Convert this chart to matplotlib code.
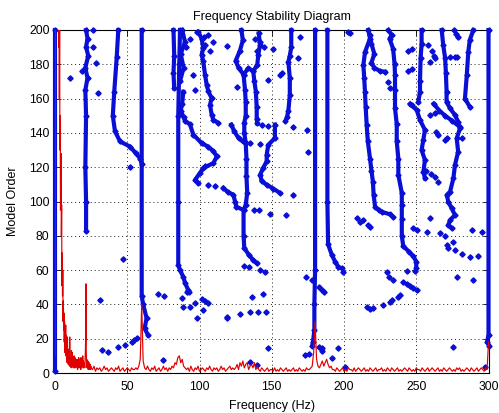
#!/usr/bin/env python3
# -*- coding=utf-8 -*-

import numpy as np
import matplotlib
matplotlib.use("Agg")
import matplotlib.pyplot as plt

# ---- stable pole tracks: (frequency Hz, model order) vertices ----
trk_0 = [(0, 1), (0, 200)]
trk_21 = [(21.5, 83), (21.5, 100), (21, 120), (21.5, 150), (21, 165), (22.5, 172),
          (21, 178), (23, 185), (21.5, 190), (22.5, 195), (21.5, 200)]
trk_43 = [(43.8, 200), (42.7, 184), (41, 164), (40, 150), (41.5, 141), (45, 135),
          (52, 132), (56, 128), (59, 125), (60, 122)]
trk_60 = [(60, 200), (60, 45), (61, 40), (63.4, 32), (62, 26), (64.4, 22)]
trk_82 = [(82, 200), (82.5, 185), (82, 175), (82.5, 166)]
trk_86 = [(86.5, 200), (86, 180), (85.3, 150), (85.3, 100), (85.3, 63), (86.5, 60),
          (88.8, 56), (90, 52.5), (92.2, 48.4), (93, 47)]
trk_88 = [(88, 200), (90, 193), (87, 186), (89, 178), (86.5, 170)]
trk_89 = [(88.8, 164), (88, 157), (87, 153), (89, 149), (90, 147), (93.4, 145),
          (95.7, 139), (101.5, 134), (106, 132), (109.6, 129.3), (112, 126.3),
          (109.6, 122.4), (102.6, 119.5), (100.3, 116.6), (97, 112.7), (99, 110.8)]
trk_102 = [(99, 199), (101.5, 195), (102.6, 189.5), (101.5, 185.6), (102.6, 181.7),
           (103.8, 174), (105, 168), (106.1, 164.2), (108.4, 160.3), (107.3, 156.4),
           (108.4, 150.6), (109.6, 147.7), (113, 145.8)]
trk_124 = [(116.5, 108), (119.5, 105.5), (123.4, 104), (124.6, 100), (125.5, 97), (130.5, 95)]
trk_130 = [(129, 200), (130, 194), (128, 188), (125, 182), (127, 178), (130.5, 174),
           (131.5, 165), (132, 158), (132, 150), (131, 146), (131, 140), (132, 134),
           (132.5, 125), (132.5, 115), (133, 105), (132, 98), (130.5, 95), (130.5, 80),
           (131, 73), (134, 69), (137, 66), (139.6, 64)]
trk_126 = [(122, 144.8), (124, 141), (127, 137), (130, 135), (132, 134)]
trk_141 = [(130.5, 174), (133.8, 177.8), (137.2, 175.9), (140, 179.8), (140.7, 185.6),
           (141.9, 191.5), (141, 198)]
trk_139 = [(137.2, 175.9), (138, 170), (139, 164), (139.6, 155), (139.6, 148), (140, 145.5)]
trk_150 = [(152.2, 144.8), (152.2, 137), (147.6, 133), (146.5, 127.3), (146.5, 123.4),
           (144, 119.5), (142, 115.6), (143, 111.8), (146.5, 109.8), (151, 107.5), (155.7, 105)]
trk_163 = [(163.5, 200), (163.5, 190), (162.5, 185), (161.5, 181.5), (162.5, 172),
           (162.5, 162), (161.5, 153), (160.5, 149), (159.5, 147)]
trk_180 = [(180, 200), (180, 60), (179.5, 40), (179.5, 25), (178.5, 18), (178, 16)]
trk_189 = [(188.5, 200), (188.5, 100), (189, 75), (191.5, 69), (193.8, 65), (196, 62), (198.4, 61)]
trk_216 = [(216.8, 200), (218, 195), (214.5, 187), (213.4, 179.6), (214, 172), (214.5, 164),
           (215, 155), (215.7, 144.6), (216.5, 135), (218, 125), (219, 118), (220, 111.5),
           (220.5, 104), (221.5, 97), (224, 95), (226, 94), (232, 92.5), (234, 91)]
trk_220 = [(218, 197), (219, 192), (221, 186), (219, 181), (221, 178), (225, 176), (228.4, 175.7)]
trk_236 = [(230.7, 200), (233, 197), (231.5, 195), (234, 189), (235, 180), (235.3, 173.8),
           (235.3, 165), (235.3, 154.5), (236.5, 145), (236.5, 135), (237.6, 125),
           (237.6, 115.5), (240, 105), (240, 98), (240, 90), (240, 80), (241, 74),
           (245, 70.7), (248, 68), (250, 65), (250, 61)]
trk_253 = [(253.7, 200), (253.7, 192), (253, 183.5), (252.6, 170), (252.6, 164), (251.4, 158)]
trk_250 = [(245.7, 157), (246.8, 156), (250.3, 153.4), (252.6, 147.5), (256, 141.7),
           (254.9, 135.9), (253.7, 130), (256, 124.2), (255, 117.4), (256, 113.5)]
trk_262 = [(262, 157), (266, 153), (270, 150), (275, 147), (280, 143.6)]
trk_270 = [(267.6, 200), (268.7, 191), (270, 183.5), (270.5, 175), (271, 164), (271, 158),
           (273.4, 154.3), (276.8, 150.4), (279, 146.5), (280.3, 142.7), (278, 136.8),
           (279, 129), (276.8, 121.3), (275.7, 113.5), (273.4, 105.7), (271.1, 103.8),
           (272.2, 99.9), (274.5, 96), (276.8, 92.1), (273.4, 89.2), (272.2, 86.3), (274.5, 84.4)]
trk_286 = [(289.5, 200), (287, 194), (286, 187), (285, 174), (283.7, 160), (287, 155.3)]
trk_300 = [(300, 200), (300, 22), (299, 18), (300.5, 16)]

tracks = [trk_0, trk_21, trk_43, trk_60, trk_82, trk_86, trk_88, trk_89, trk_102,
          trk_124, trk_130, trk_126, trk_141, trk_139, trk_150, trk_163, trk_180,
          trk_189, trk_216, trk_220, trk_236, trk_253, trk_250, trk_262, trk_270,
          trk_286, trk_300]

# ---- single poles that do not form a track ----
lone_poles = [
    (26, 200), (26, 190), (28.4, 181), (18.9, 176), (10.4, 172), (30, 163),
    (52, 120.3), (47.3, 66.3), (31, 42.6),
    (32.3, 13.4), (37, 12.1), (43.8, 15.3), (48.4, 16.3), (53, 18.3), (55, 19.5), (57, 20.2),
    (71.5, 46), (75.4, 45), (75, 7.6),
    (87.7, 44), (91.1, 47), (96.9, 40.6), (93.4, 38.7), (88.8, 38.7), (98, 31.9),
    (101.5, 43), (103.8, 42), (106, 41), (102.2, 37),
    (119, 32.8), (119, 32), (128, 34.4), (135, 35.7), (140.6, 35.7), (146, 35.4),
    (136.5, 44.5), (143.7, 46), (147.6, 14.4), (135, 6.6), (139.6, 4.7),
    (131, 62.5), (134, 62), (142, 60), (145, 59),
    (138, 95), (141, 95), (148.8, 93), (160, 92),
    (91, 190), (93.4, 195), (95.7, 174), (96.9, 165), (98, 199),
    (103, 196), (106, 197), (104, 191), (109, 193), (107, 188), (118.8, 190.5),
    (125.7, 167), (135, 134), (141.9, 133.3), (143, 144.8), (147.6, 143.8),
    (103.8, 120.7), (106, 109.8), (110.7, 108.9),
    (138.5, 195), (142, 193), (144.5, 190), (140, 188),
    (169.6, 196), (168.4, 183.5), (155.7, 174), (157, 175), (147.6, 171), (151, 189),
    (165, 143.6), (174.2, 141.7), (175.3, 129), (165, 104),
    (174, 56), (177.6, 54), (183, 50), (184.5, 48.5), (186, 47),
    (173, 10.5), (176, 11), (183, 15), (184.5, 13), (185, 14.5), (196, 14.5), (191.5, 8.7),
    (199.5, 59), (200.7, 3.7), (203, 199), (204, 198),
    (208.8, 90.4), (211, 88), (213, 89), (216.8, 86.3), (218, 85),
    (215.7, 38.7), (218, 37.5), (220.3, 37.7), (227.2, 39.7), (232, 41.6), (233, 42.6),
    (237.4, 44.5), (238.8, 45.5),
    (229.5, 59), (231, 56), (234, 54), (241, 53), (243.5, 52), (246, 50.5), (248, 49.5),
    (250.3, 48.4), (243.4, 59.5), (249, 59.5),
    (248, 84.4), (250.3, 83.4), (257.2, 82.4), (259.5, 90.2),
    (278, 56), (289.5, 54.2), (288.3, 83.4), (295.3, 82.4), (275.2, 15.3), (297.6, 3.7),
    (244, 188), (247, 189), (244, 176), (247, 177), (230.7, 169.9), (231.5, 166),
    (262, 185), (263, 183.5), (259.5, 181.5), (258, 191), (261, 188),
    (276, 200), (277.5, 197.5), (279, 196), (277, 184.5), (278, 184), (273.4, 184.4),
    (259.5, 150.4), (263, 151.6), (265, 138.8), (264, 140.7), (271, 136.8), (270, 135.9),
    (281.4, 136.8), (257, 117.8), (260, 116), (263, 114), (265, 111.5),
    (266.4, 81.5), (269.8, 80), (275.7, 76.6), (271, 74.6), (272.2, 72.7), (276.8, 71.8),
    (281.4, 69.5), (287, 67.5), (292.7, 68.4),
]

# ---- scaled FFT magnitude of the measured signal ----
spec_low = [10, 215, 240, 230, 238, 225, 232, 220, 236, 210, 225, 205, 218, 190, 208, 160,
            202, 130, 150, 95, 110, 128, 80, 98, 51, 70,
            45, 60, 30, 42, 25, 35, 18, 30, 12, 26, 15, 28, 10, 22, 8, 20, 6, 21, 9, 14,
            5, 11, 7, 13, 4,
            21, 6, 9, 4, 8, 3, 13, 5, 7, 12, 4, 9, 3, 8, 5, 10, 3, 6, 9, 4, 7, 3, 8, 5, 6,
            4, 7, 2, 8, 5, 3, 9, 4, 6, 3, 8, 5, 7, 2, 9, 4, 6, 3, 8, 5, 10, 4, 7, 3, 6,
            4, 5, 3, 7, 12, 20, 52, 14, 6, 8, 3, 6, 4, 7, 2, 5, 3, 6, 2, 4, 3, 5, 2, 4]
                                             # 0 .. 24.8 Hz, 0.2 Hz bins
spec_high = [3, 2, 4, 1, 3, 2, 3, 1, 2, 4, 2, 3, 1, 2, 3, 2, 1, 3, 2, 4, 1, 2, 3, 1, 2, 3, 2, 1, 3, 2,
             2, 3, 2, 4, 8, 40, 7, 3, 2, 4,
             2, 1, 3, 2, 4, 1, 2, 3, 1, 2, 4, 2, 3, 1, 3, 2,
             4, 3, 6, 5, 9, 10, 6, 8, 4, 3,
             2, 3, 1, 4, 2, 1, 3, 2, 4, 1, 2, 3, 2, 1, 3, 2, 4, 2, 1, 3, 2, 3, 1, 2, 4, 2, 3, 1,
             2, 3, 4, 2, 3, 2,
             3, 5, 2, 6, 4, 7, 3, 5, 6, 2, 4, 5, 3, 6, 2, 4,
             2, 1, 3, 2, 1, 2, 3, 1, 2, 2, 1, 3, 1, 2, 1, 3, 2, 1, 2, 3, 1, 2, 1, 2, 3, 1, 2, 1,
             3, 2, 1, 2, 1, 3, 2, 2, 3,
             4, 12, 30, 8, 4, 3, 5, 7, 4, 6, 8, 5, 3, 4, 2,
             2, 1, 3, 2, 1, 2, 3, 1, 2, 1, 3, 2, 2, 1, 3, 1, 2, 3, 2, 1,
             2, 3, 1, 2, 1, 3, 2, 1, 2, 3, 1, 2, 2, 3, 1, 2, 1, 3, 2, 1,
             3, 2, 1, 2, 3, 1, 2, 1, 2, 3, 2, 1, 3, 2, 1, 2, 1, 3, 2, 2,
             1, 3, 2, 1, 2, 3, 1, 2, 3, 2, 1, 2, 3, 1, 2, 1, 3, 2, 1, 2,
             3, 2, 1, 2, 1, 3, 2, 3, 1, 2, 1, 2, 3, 2, 1, 3, 2, 1, 2, 3,
             1, 2, 3, 2, 1, 3, 2,
             18]                             # 25 .. 300 Hz, 1 Hz bins

x_ticks = [0, 50, 100, 150, 200, 250, 300]
y_ticks = [0, 20, 40, 60, 80, 100, 120, 140, 160, 180, 200]

BLUE = (0.04, 0.06, 0.84)
RED = (0.88, 0.0, 0.0)

plt.rcParams['font.family'] = ['Liberation Sans', 'DejaVu Sans']

fig = plt.figure(figsize=(4.99, 4.13), dpi=100)
ax = fig.add_axes([55 / 499, 40 / 413, 433.5 / 499, 343 / 413])

for trk in tracks:
    f, o = zip(*trk)
    ax.plot(f, o, '-', color=BLUE, lw=3.0, solid_joinstyle='round',
            marker='D', ms=2.6, mec=BLUE, mfc=BLUE, clip_on=False, zorder=3)

lf, lo = zip(*lone_poles)
ax.plot(lf, lo, 'D', ls='none', ms=2.7, color=BLUE, clip_on=False, zorder=3)

spec_freq = np.concatenate([np.arange(len(spec_low)) * 0.2,
                            25 + np.arange(len(spec_high))])
spec_amp = np.array(spec_low + spec_high, dtype=float)
ax.plot(spec_freq, spec_amp, color=RED, lw=0.85, zorder=4)

ax.set_xlim(0, 300)
ax.set_ylim(0, 200)
ax.set_xticks(x_ticks)
ax.set_yticks(y_ticks)
ax.tick_params(direction='in', length=4, width=0.6, labelsize=8.7,
               top=True, right=True)
ax.tick_params(axis='x', pad=6)
ax.tick_params(axis='y', pad=4)
ax.grid(True, color='black', lw=0.6, linestyle=(0, (1.2, 3.5)))
ax.set_axisbelow(True)
for s in ax.spines.values():
    s.set_linewidth(0.8)

ax.set_title("Frequency Stability Diagram", fontsize=9, pad=7)
ax.set_xlabel("Frequency (Hz)", fontsize=9, labelpad=5)
ax.set_ylabel("Model Order", fontsize=9, labelpad=7)

fig.savefig("out.png", dpi=100)
